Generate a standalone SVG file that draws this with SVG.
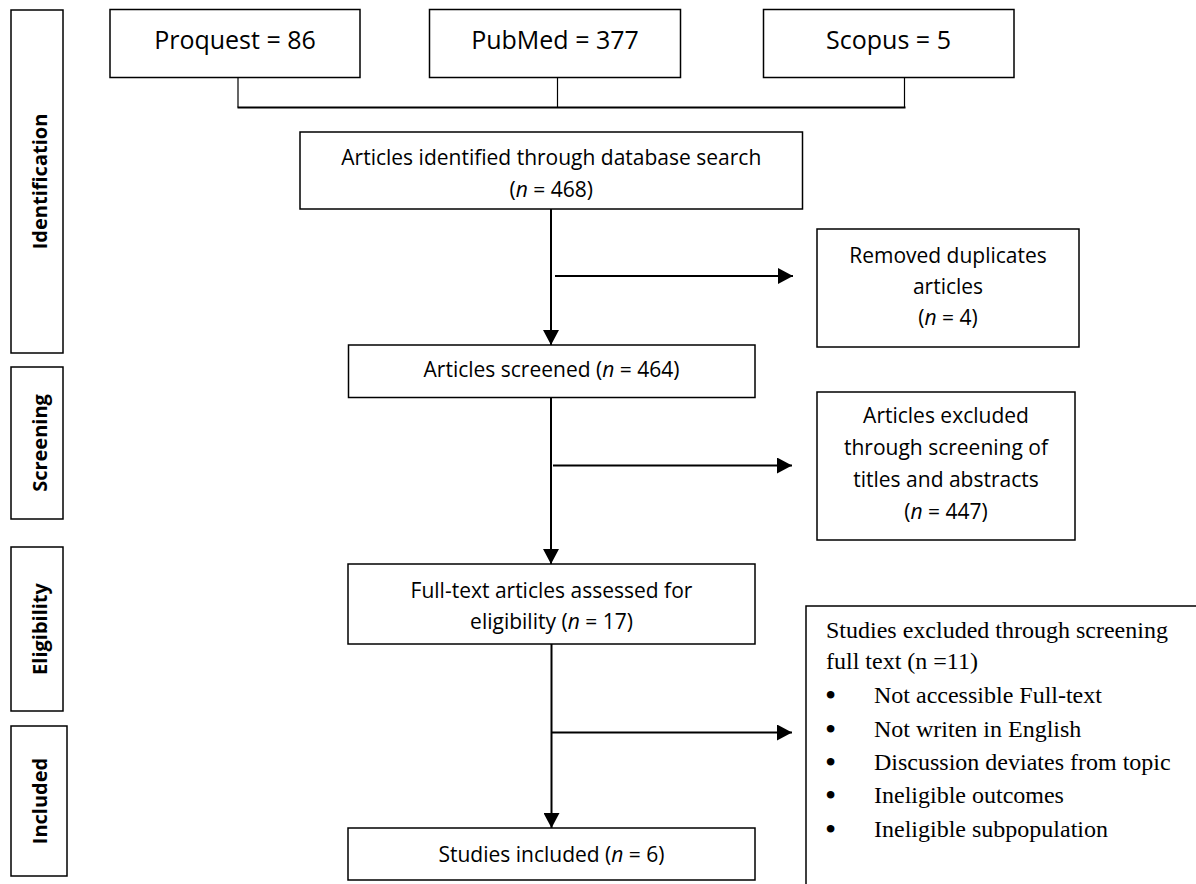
<svg xmlns="http://www.w3.org/2000/svg" width="1196" height="884" viewBox="0 0 1196 884">
<defs>
<style>
.box{fill:#fff;stroke:#000;stroke-width:1.5}
.t{font-family:"Open Sans","Liberation Sans",sans-serif;font-size:21px;fill:#000;text-anchor:middle}
.big{font-size:25px}
.lab{font-family:"Open Sans","Liberation Sans",sans-serif;font-size:20px;font-weight:bold;fill:#000;text-anchor:middle}
.tm{font-family:"Liberation Serif","Times New Roman",serif;font-size:24px;fill:#000}
.bul{font-size:32px}
.ln{fill:none;stroke:#000;stroke-width:2}
.thin{fill:none;stroke:#000;stroke-width:1.2}
</style>
<marker id="ah" markerWidth="16" markerHeight="16" refX="15" refY="8" orient="auto" markerUnits="userSpaceOnUse">
<path d="M0,0 L15,8 L0,16 Z" fill="#000"/>
</marker>
</defs>
<rect width="1196" height="884" fill="#fff"/>

<g id="stage-identification">
<rect class="box" x="11" y="10" width="52" height="343"/>
<text class="lab" transform="translate(46.5,181.5) rotate(-90)">Identification</text>
</g>
<g id="stage-screening">
<rect class="box" x="11" y="367" width="52" height="152"/>
<text class="lab" transform="translate(46.5,443) rotate(-90)">Screening</text>
</g>
<g id="stage-eligibility">
<rect class="box" x="11" y="547" width="52" height="164"/>
<text class="lab" transform="translate(46.5,629) rotate(-90)">Eligibility</text>
</g>
<g id="stage-included">
<rect class="box" x="11" y="726" width="56" height="150"/>
<text class="lab" transform="translate(46.5,801) rotate(-90)">Included</text>
</g>

<g id="proquest">
<rect class="box" x="110" y="9.5" width="250" height="68"/>
<text class="t big" x="235" y="48.5">Proquest = 86</text>
</g>
<g id="pubmed">
<rect class="box" x="429.5" y="9.5" width="251" height="68"/>
<text class="t big" x="555" y="48.5">PubMed = 377</text>
</g>
<g id="scopus">
<rect class="box" x="763.5" y="9.5" width="250.5" height="68"/>
<text class="t big" x="888.5" y="48.5">Scopus = 5</text>
</g>

<g id="identified">
<rect class="box" x="300" y="132" width="502.5" height="77"/>
<text class="t" x="551.3" y="165">Articles identified through database search</text>
<text class="t" x="551.3" y="196.5">(<tspan font-style="italic">n</tspan> = 468)</text>
</g>
<g id="duplicates">
<rect class="box" x="817" y="229" width="262" height="118"/>
<text class="t" x="948" y="263">Removed duplicates</text>
<text class="t" x="948" y="294">articles</text>
<text class="t" x="948" y="325">(<tspan font-style="italic">n</tspan> = 4)</text>
</g>
<g id="screened">
<rect class="box" x="348.5" y="345" width="406.5" height="52.5"/>
<text class="t" x="551.5" y="376.5">Articles screened (<tspan font-style="italic">n</tspan> = 464)</text>
</g>
<g id="excluded-screening">
<rect class="box" x="817" y="392" width="258" height="148"/>
<text class="t" x="946" y="423">Articles excluded</text>
<text class="t" x="946" y="455">through screening of</text>
<text class="t" x="946" y="487">titles and abstracts</text>
<text class="t" x="946" y="518.5">(<tspan font-style="italic">n</tspan> = 447)</text>
</g>
<g id="fulltext">
<rect class="box" x="348" y="564" width="407" height="80"/>
<text class="t" x="551.5" y="598">Full-text articles assessed for</text>
<text class="t" x="551.5" y="629">eligibility (<tspan font-style="italic">n</tspan> = 17)</text>
</g>
<g id="excluded-fulltext">
<rect class="box" x="806" y="606" width="420" height="320"/>
<text class="tm" x="826" y="638">Studies excluded through screening</text>
<text class="tm" x="826" y="669">full text (n =11)</text>
<text class="tm" x="825" y="703"><tspan class="bul" dy="2.5">•</tspan><tspan x="874" dy="-2.5">Not accessible Full-text</tspan></text>
<text class="tm" x="825" y="737"><tspan class="bul" dy="2.5">•</tspan><tspan x="874" dy="-2.5">Not writen in English</tspan></text>
<text class="tm" x="825" y="770"><tspan class="bul" dy="2.5">•</tspan><tspan x="874" dy="-2.5">Discussion deviates from topic</tspan></text>
<text class="tm" x="825" y="803"><tspan class="bul" dy="2.5">•</tspan><tspan x="874" dy="-2.5">Ineligible outcomes</tspan></text>
<text class="tm" x="825" y="837"><tspan class="bul" dy="2.5">•</tspan><tspan x="874" dy="-2.5">Ineligible subpopulation</tspan></text>
</g>
<g id="included">
<rect class="box" x="348" y="828" width="407" height="52"/>
<text class="t" x="551.5" y="862">Studies included (<tspan font-style="italic">n</tspan> = 6)</text>
</g>

<g id="connectors">
<path class="thin" d="M238,77.5 V107.5 M557.5,77.5 V107.5 M904.5,77.5 V107.5"/>
<path class="ln" d="M237.5,107.5 H905.5"/>
<path class="ln" d="M551,209 V345" marker-end="url(#ah)"/>
<path class="ln" d="M555,276 H793" marker-end="url(#ah)"/>
<path class="ln" d="M551,397.5 V564" marker-end="url(#ah)"/>
<path class="ln" d="M553,465.5 H792" marker-end="url(#ah)"/>
<path class="ln" d="M551.5,644 V828" marker-end="url(#ah)"/>
<path class="ln" d="M552,732.5 H792" marker-end="url(#ah)"/>
</g>
</svg>
